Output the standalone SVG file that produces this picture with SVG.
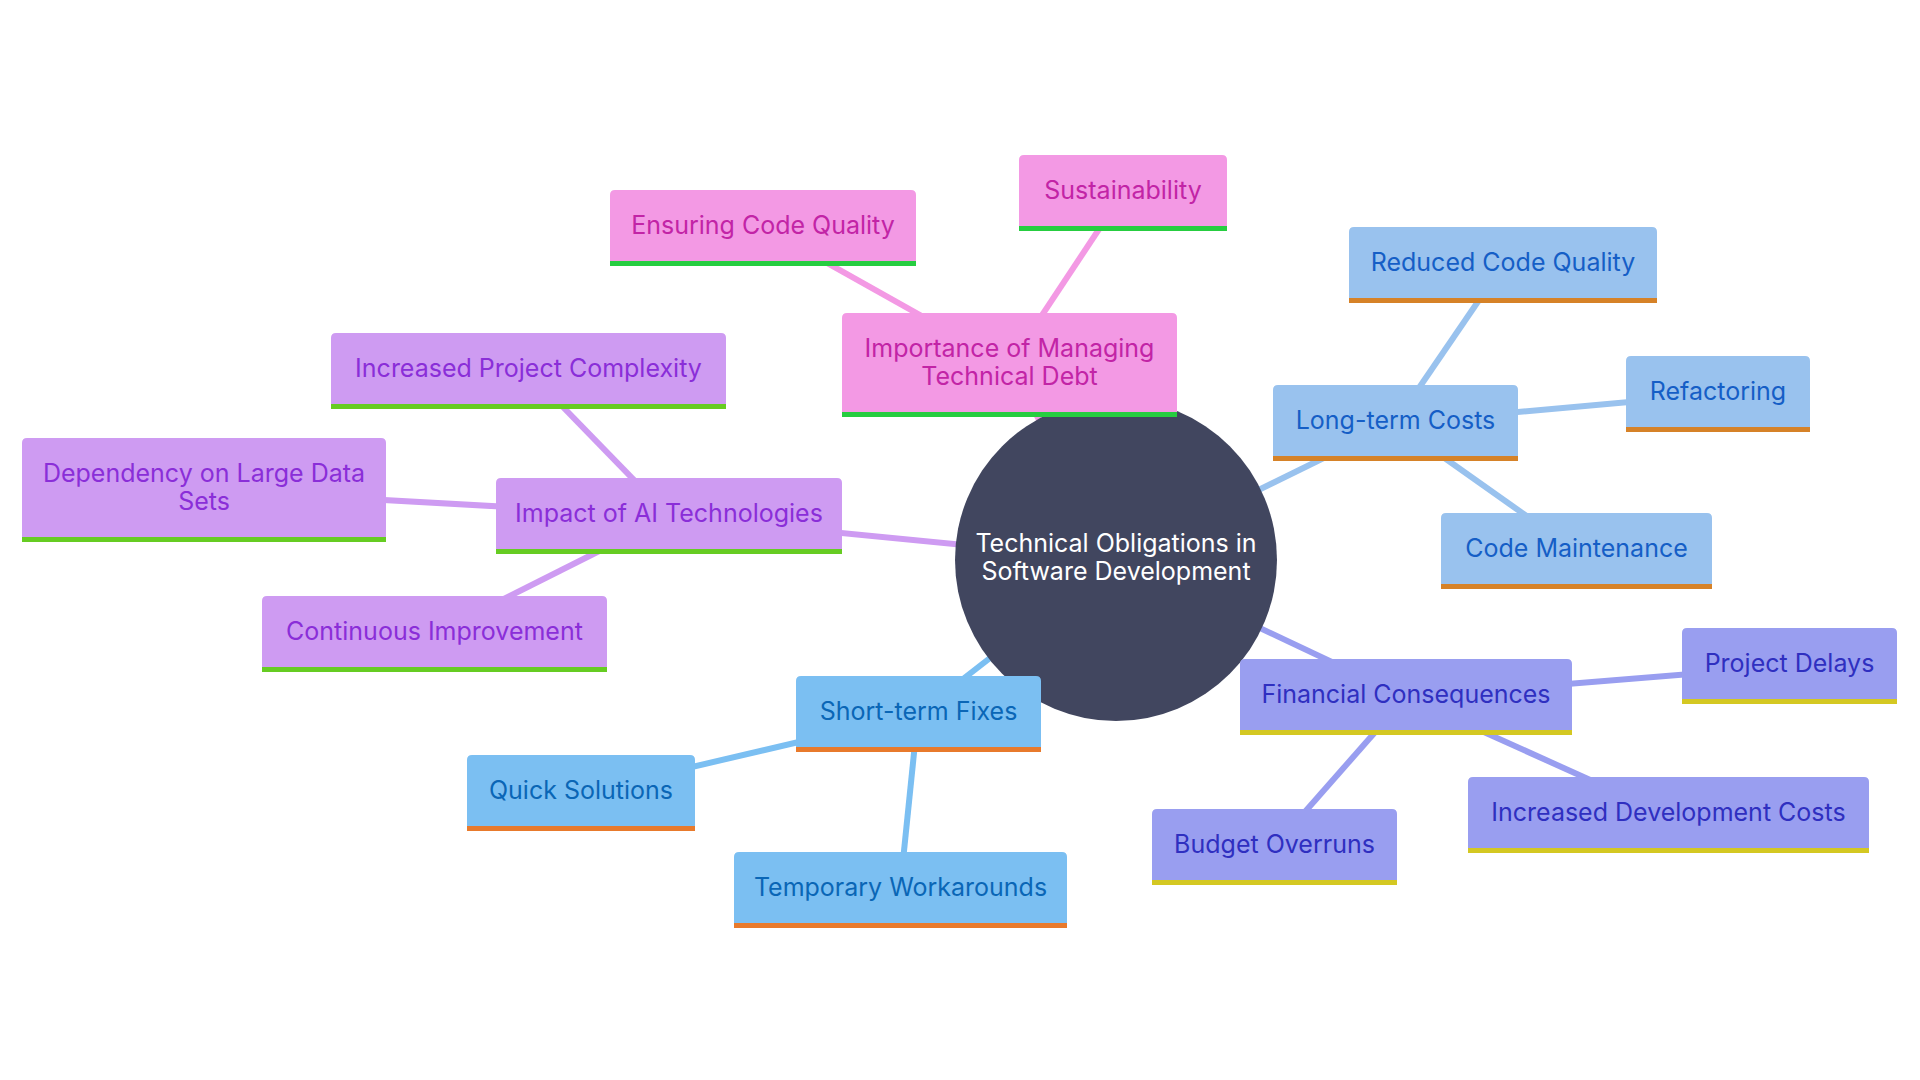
<svg xmlns="http://www.w3.org/2000/svg" width="1920" height="1080" viewBox="0 0 1920 1080">
<style>
text{font-family:Inter,"Noto Sans","Liberation Sans",sans-serif;font-size:25px;text-anchor:middle}
.e{fill:none;stroke-width:6;stroke-linecap:butt}
.pk .b{fill:#F399E4}.pk .s{fill:#26CD40}.pk text{fill:#C224A6}
.pu .b{fill:#CE9BF2}.pu .s{fill:#66CC22}.pu text{fill:#8A2ED8}
.lb .b{fill:#99C2EE}.lb .s{fill:#D68228}.lb text{fill:#155EC6}
.sb .b{fill:#7BBFF2}.sb .s{fill:#E87A2C}.sb text{fill:#0A66B6}
.pw .b{fill:#999EF0}.pw .s{fill:#D4C822}.pw text{fill:#2F2FC0}
</style>
<rect width="1920" height="1080" fill="#ffffff"/>
<g id="connectors">
<line class="e" x1="1116" y1="560" x2="1009" y2="365" stroke="#F399E4"/>
<line class="e" x1="1009" y1="365" x2="763" y2="227" stroke="#F399E4"/>
<line class="e" x1="1009" y1="365" x2="1123" y2="193" stroke="#F399E4"/>
<line class="e" x1="1116" y1="560" x2="1395" y2="423" stroke="#99C2EE"/>
<line class="e" x1="1395" y1="423" x2="1503" y2="265" stroke="#99C2EE"/>
<line class="e" x1="1395" y1="423" x2="1718" y2="394" stroke="#99C2EE"/>
<line class="e" x1="1395" y1="423" x2="1576" y2="551" stroke="#99C2EE"/>
<line class="e" x1="1116" y1="560" x2="1406" y2="697" stroke="#999EF0"/>
<line class="e" x1="1406" y1="697" x2="1789" y2="666" stroke="#999EF0"/>
<line class="e" x1="1406" y1="697" x2="1668" y2="815" stroke="#999EF0"/>
<line class="e" x1="1406" y1="697" x2="1274" y2="847" stroke="#999EF0"/>
<line class="e" x1="1116" y1="560" x2="918" y2="714" stroke="#7BBFF2"/>
<line class="e" x1="918" y1="714" x2="581" y2="793" stroke="#7BBFF2"/>
<line class="e" x1="918" y1="714" x2="900" y2="890" stroke="#7BBFF2"/>
<line class="e" x1="1116" y1="560" x2="669" y2="516" stroke="#CE9BF2"/>
<line class="e" x1="669" y1="516" x2="528" y2="371" stroke="#CE9BF2"/>
<line class="e" x1="669" y1="516" x2="204" y2="490" stroke="#CE9BF2"/>
<line class="e" x1="669" y1="516" x2="434" y2="634" stroke="#CE9BF2"/>
</g>
<g id="root">
<circle cx="1116" cy="560" r="161" fill="#41465F"/>
<text x="1116" y="552" fill="#ffffff">Technical Obligations in</text>
<text x="1116" y="580" fill="#ffffff">Software Development</text>
</g>
<g id="n-importance" class="pk">
<path class="b" d="M842,417V318Q842,313 847,313H1172Q1177,313 1177,318V417Z"/>
<rect class="s" x="842" y="412" width="335" height="5"/>
<text x="1009.5" y="357">Importance of Managing</text>
<text x="1009.5" y="385">Technical Debt</text>
</g>
<g id="n-ensuring" class="pk">
<path class="b" d="M610,266V195Q610,190 615,190H911Q916,190 916,195V266Z"/>
<rect class="s" x="610" y="261" width="306" height="5"/>
<text x="763" y="234">Ensuring Code Quality</text>
</g>
<g id="n-sustainability" class="pk">
<path class="b" d="M1019,231V160Q1019,155 1024,155H1222Q1227,155 1227,160V231Z"/>
<rect class="s" x="1019" y="226" width="208" height="5"/>
<text x="1123" y="199">Sustainability</text>
</g>
<g id="n-longterm" class="lb">
<path class="b" d="M1273,461V390Q1273,385 1278,385H1513Q1518,385 1518,390V461Z"/>
<rect class="s" x="1273" y="456" width="245" height="5"/>
<text x="1395.5" y="429">Long-term Costs</text>
</g>
<g id="n-reduced" class="lb">
<path class="b" d="M1349,303V232Q1349,227 1354,227H1652Q1657,227 1657,232V303Z"/>
<rect class="s" x="1349" y="298" width="308" height="5"/>
<text x="1503" y="271">Reduced Code Quality</text>
</g>
<g id="n-refactoring" class="lb">
<path class="b" d="M1626,432V361Q1626,356 1631,356H1805Q1810,356 1810,361V432Z"/>
<rect class="s" x="1626" y="427" width="184" height="5"/>
<text x="1718" y="400">Refactoring</text>
</g>
<g id="n-maintenance" class="lb">
<path class="b" d="M1441,589V518Q1441,513 1446,513H1707Q1712,513 1712,518V589Z"/>
<rect class="s" x="1441" y="584" width="271" height="5"/>
<text x="1576.5" y="557">Code Maintenance</text>
</g>
<g id="n-financial" class="pw">
<path class="b" d="M1240,735V664Q1240,659 1245,659H1567Q1572,659 1572,664V735Z"/>
<rect class="s" x="1240" y="730" width="332" height="5"/>
<text x="1406" y="703">Financial Consequences</text>
</g>
<g id="n-delays" class="pw">
<path class="b" d="M1682,704V633Q1682,628 1687,628H1892Q1897,628 1897,633V704Z"/>
<rect class="s" x="1682" y="699" width="215" height="5"/>
<text x="1789.5" y="672">Project Delays</text>
</g>
<g id="n-devcosts" class="pw">
<path class="b" d="M1468,853V782Q1468,777 1473,777H1864Q1869,777 1869,782V853Z"/>
<rect class="s" x="1468" y="848" width="401" height="5"/>
<text x="1668.5" y="821">Increased Development Costs</text>
</g>
<g id="n-budget" class="pw">
<path class="b" d="M1152,885V814Q1152,809 1157,809H1392Q1397,809 1397,814V885Z"/>
<rect class="s" x="1152" y="880" width="245" height="5"/>
<text x="1274.5" y="853">Budget Overruns</text>
</g>
<g id="n-shortterm" class="sb">
<path class="b" d="M796,752V681Q796,676 801,676H1036Q1041,676 1041,681V752Z"/>
<rect class="s" x="796" y="747" width="245" height="5"/>
<text x="918.5" y="720">Short-term Fixes</text>
</g>
<g id="n-quick" class="sb">
<path class="b" d="M467,831V760Q467,755 472,755H690Q695,755 695,760V831Z"/>
<rect class="s" x="467" y="826" width="228" height="5"/>
<text x="581" y="799">Quick Solutions</text>
</g>
<g id="n-temporary" class="sb">
<path class="b" d="M734,928V857Q734,852 739,852H1062Q1067,852 1067,857V928Z"/>
<rect class="s" x="734" y="923" width="333" height="5"/>
<text x="900.5" y="896">Temporary Workarounds</text>
</g>
<g id="n-ai" class="pu">
<path class="b" d="M496,554V483Q496,478 501,478H837Q842,478 842,483V554Z"/>
<rect class="s" x="496" y="549" width="346" height="5"/>
<text x="669" y="522">Impact of AI Technologies</text>
</g>
<g id="n-complexity" class="pu">
<path class="b" d="M331,409V338Q331,333 336,333H721Q726,333 726,338V409Z"/>
<rect class="s" x="331" y="404" width="395" height="5"/>
<text x="528.5" y="377">Increased Project Complexity</text>
</g>
<g id="n-dependency" class="pu">
<path class="b" d="M22,542V443Q22,438 27,438H381Q386,438 386,443V542Z"/>
<rect class="s" x="22" y="537" width="364" height="5"/>
<text x="204" y="482">Dependency on Large Data</text>
<text x="204" y="510">Sets</text>
</g>
<g id="n-continuous" class="pu">
<path class="b" d="M262,672V601Q262,596 267,596H602Q607,596 607,601V672Z"/>
<rect class="s" x="262" y="667" width="345" height="5"/>
<text x="434.5" y="640">Continuous Improvement</text>
</g>
</svg>
